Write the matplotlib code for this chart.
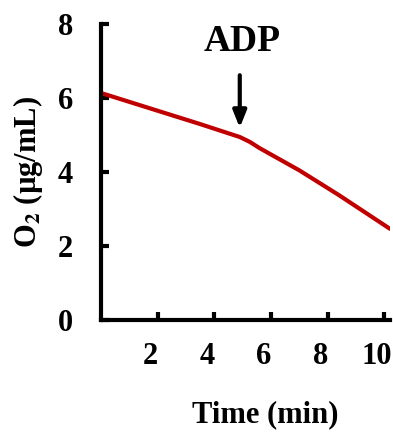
import matplotlib
matplotlib.use("Agg")
import matplotlib.pyplot as plt
from matplotlib.transforms import ScaledTranslation

plt.rcParams["font.family"] = ["Liberation Serif", "DejaVu Serif"]
plt.rcParams["font.weight"] = "bold"
plt.rcParams["mathtext.fontset"] = "stix"

# O2 trace
time_min = [0, 2, 3.5, 4.9, 5.25, 5.6, 6.3, 7.0, 8.4, 10.2]
o2_ugml = [6.14, 5.66, 5.30, 4.95, 4.82, 4.65, 4.35, 4.05, 3.38, 2.47]
adp_time = 4.9
x_ticks = [2, 4, 6, 8, 10]
y_ticks = [0, 2, 4, 6, 8]

fig = plt.figure(figsize=(3.93, 4.32), dpi=100)
ax = fig.add_axes([0.257, 0.259, 0.735, 0.685])

ax.plot(time_min, o2_ugml, color="#C00000", lw=3,
        solid_capstyle="round", solid_joinstyle="round")

ax.set_xlim(0, 10.2)
ax.set_ylim(0, 8)
ax.set_xticks(x_ticks)
ax.set_yticks(y_ticks)
for s in ["top", "right"]:
    ax.spines[s].set_visible(False)
for s in ["left", "bottom"]:
    ax.spines[s].set_linewidth(3)
ax.tick_params(direction="in", length=6, width=3, labelsize=22)
ax.tick_params(axis="x", pad=16)
ax.tick_params(axis="y", pad=20)
# Excel-style labels sit a bit left of their ticks
for lab in ax.get_xticklabels():
    lab.set_transform(lab.get_transform() + ScaledTranslation(-7 / 100, 0, fig.dpi_scale_trans))

ax.set_xlabel("Time (min)", fontsize=22, fontweight="bold")
ax.xaxis.set_label_coords(0.57, -0.27)
ax.set_ylabel(r"O$_\mathbf{2}$ (µg/mL)", fontsize=22, fontweight="bold")
ax.yaxis.set_label_coords(-0.195, 0.5)

ax.annotate("", xy=(adp_time, 5.2), xytext=(adp_time, 6.62),
            arrowprops=dict(arrowstyle="-|>,head_length=1.0,head_width=0.4",
                            color="black", lw=3, shrinkA=0, shrinkB=0))
ax.text(adp_time + 0.1, 7.53, "ADP", ha="center", va="center",
        fontsize=27, fontweight="bold")

fig.savefig("out.png", dpi=100)
